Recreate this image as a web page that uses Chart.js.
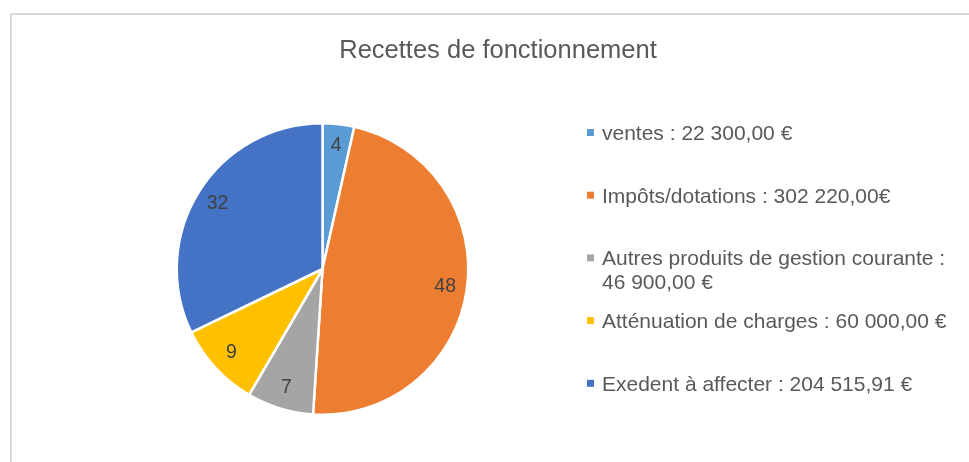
<!DOCTYPE html>
<html lang="fr">
<head>
<meta charset="utf-8">
<title>Recettes de fonctionnement</title>
<script src="https://cdn.jsdelivr.net/npm/chart.js@4.4.1/dist/chart.umd.min.js"></script>
<style>
  html, body { margin: 0; padding: 0; background: #ffffff; }
  #wrap { position: relative; width: 969px; height: 462px; }
</style>
</head>
<body>
<div id="wrap"><canvas id="pie-chart"></canvas></div>
<script>
// ============================================================
// Recettes de fonctionnement — camembert + légende à droite
// ============================================================

const titre = "Recettes de fonctionnement";
const categories = [
  "ventes",
  "Impôts/dotations",
  "Autres produits de gestion courante",
  "Atténuation de charges",
  "Exedent à affecter",
];
const montants = [22300, 302220, 46900, 60000, 204515.91];
const libellesLegende = [
  ["ventes : 22 300,00 €"],
  ["Impôts/dotations : 302 220,00€"],
  ["Autres produits de gestion courante :", "46 900,00 €"],
  ["Atténuation de charges : 60 000,00 €"],
  ["Exedent à affecter : 204 515,91 €"],
];
const couleurs = ["#5B9BD5", "#ED7D31", "#A5A5A5", "#FFC000", "#4472C4"];

(function () {
  "use strict";

  const FONT = '"Liberation Sans", Arial, sans-serif';
  const GRIS_TEXTE = "#595959";

  // Cadre, titre et légende dessinés à la main (la légende a une ligne sur deux)
  const decorPlugin = {
    id: "decor",
    beforeDraw(chart) {
      const ctx = chart.ctx;
      ctx.save();
      ctx.strokeStyle = "#d9d9d9";
      ctx.lineWidth = 2;
      ctx.beginPath();
      ctx.moveTo(11, chart.height + 2);
      ctx.lineTo(11, 14);
      ctx.lineTo(chart.width + 2, 14);
      ctx.stroke();
      ctx.restore();
    },
    afterDraw(chart) {
      const ctx = chart.ctx;
      ctx.save();
      ctx.fillStyle = GRIS_TEXTE;
      ctx.textBaseline = "alphabetic";

      // titre
      ctx.font = "25.5px " + FONT;
      ctx.textAlign = "center";
      ctx.fillText(titre, 498, 58);

      // légende
      ctx.font = "21px " + FONT;
      ctx.textAlign = "left";
      const x0 = 587, step = 62.7, lineH = 24;
      libellesLegende.forEach((lignes, i) => {
        const y = 140 + i * step;
        ctx.fillStyle = couleurs[i];
        ctx.fillRect(x0, y - 11, 7, 7);
        ctx.fillStyle = GRIS_TEXTE;
        lignes.forEach((txt, k) => ctx.fillText(txt, x0 + 15, y + k * lineH));
      });
      ctx.restore();
    },
  };

  // Pourcentages arrondis à l'intérieur des parts
  const pourcentPlugin = {
    id: "pourcent",
    afterDatasetsDraw(chart) {
      const ctx = chart.ctx;
      const meta = chart.getDatasetMeta(0);
      const total = montants.reduce((a, b) => a + b, 0);
      ctx.save();
      ctx.font = "19.5px " + FONT;
      ctx.fillStyle = "#404040";
      ctx.textAlign = "center";
      ctx.textBaseline = "middle";
      meta.data.forEach((arc, i) => {
        const p = arc.getProps(["x", "y", "startAngle", "endAngle", "outerRadius"], true);
        const mid = (p.startAngle + p.endAngle) / 2;
        const r = p.outerRadius * 0.85;
        const pct = Math.round((montants[i] / total) * 100);
        ctx.fillText(String(pct), p.x + Math.cos(mid) * r, p.y + Math.sin(mid) * r);
      });
      ctx.restore();
    },
  };

  const canvas = document.getElementById("pie-chart");
  new Chart(canvas.getContext("2d"), {
    type: "pie",
    data: {
      labels: categories,
      datasets: [
        {
          label: titre,
          data: montants,
          backgroundColor: couleurs,
          borderColor: "#ffffff",
          borderWidth: 2.5,
        },
      ],
    },
    options: {
      responsive: true,
      maintainAspectRatio: false,
      animation: false,
      layout: {
        padding: { left: 175.5, right: 499.5, top: 122, bottom: 46 },
      },
      plugins: {
        legend: { display: false },
        title: { display: false },
        tooltip: { enabled: false },
      },
    },
    plugins: [decorPlugin, pourcentPlugin],
  });
})();
</script>
</body>
</html>
